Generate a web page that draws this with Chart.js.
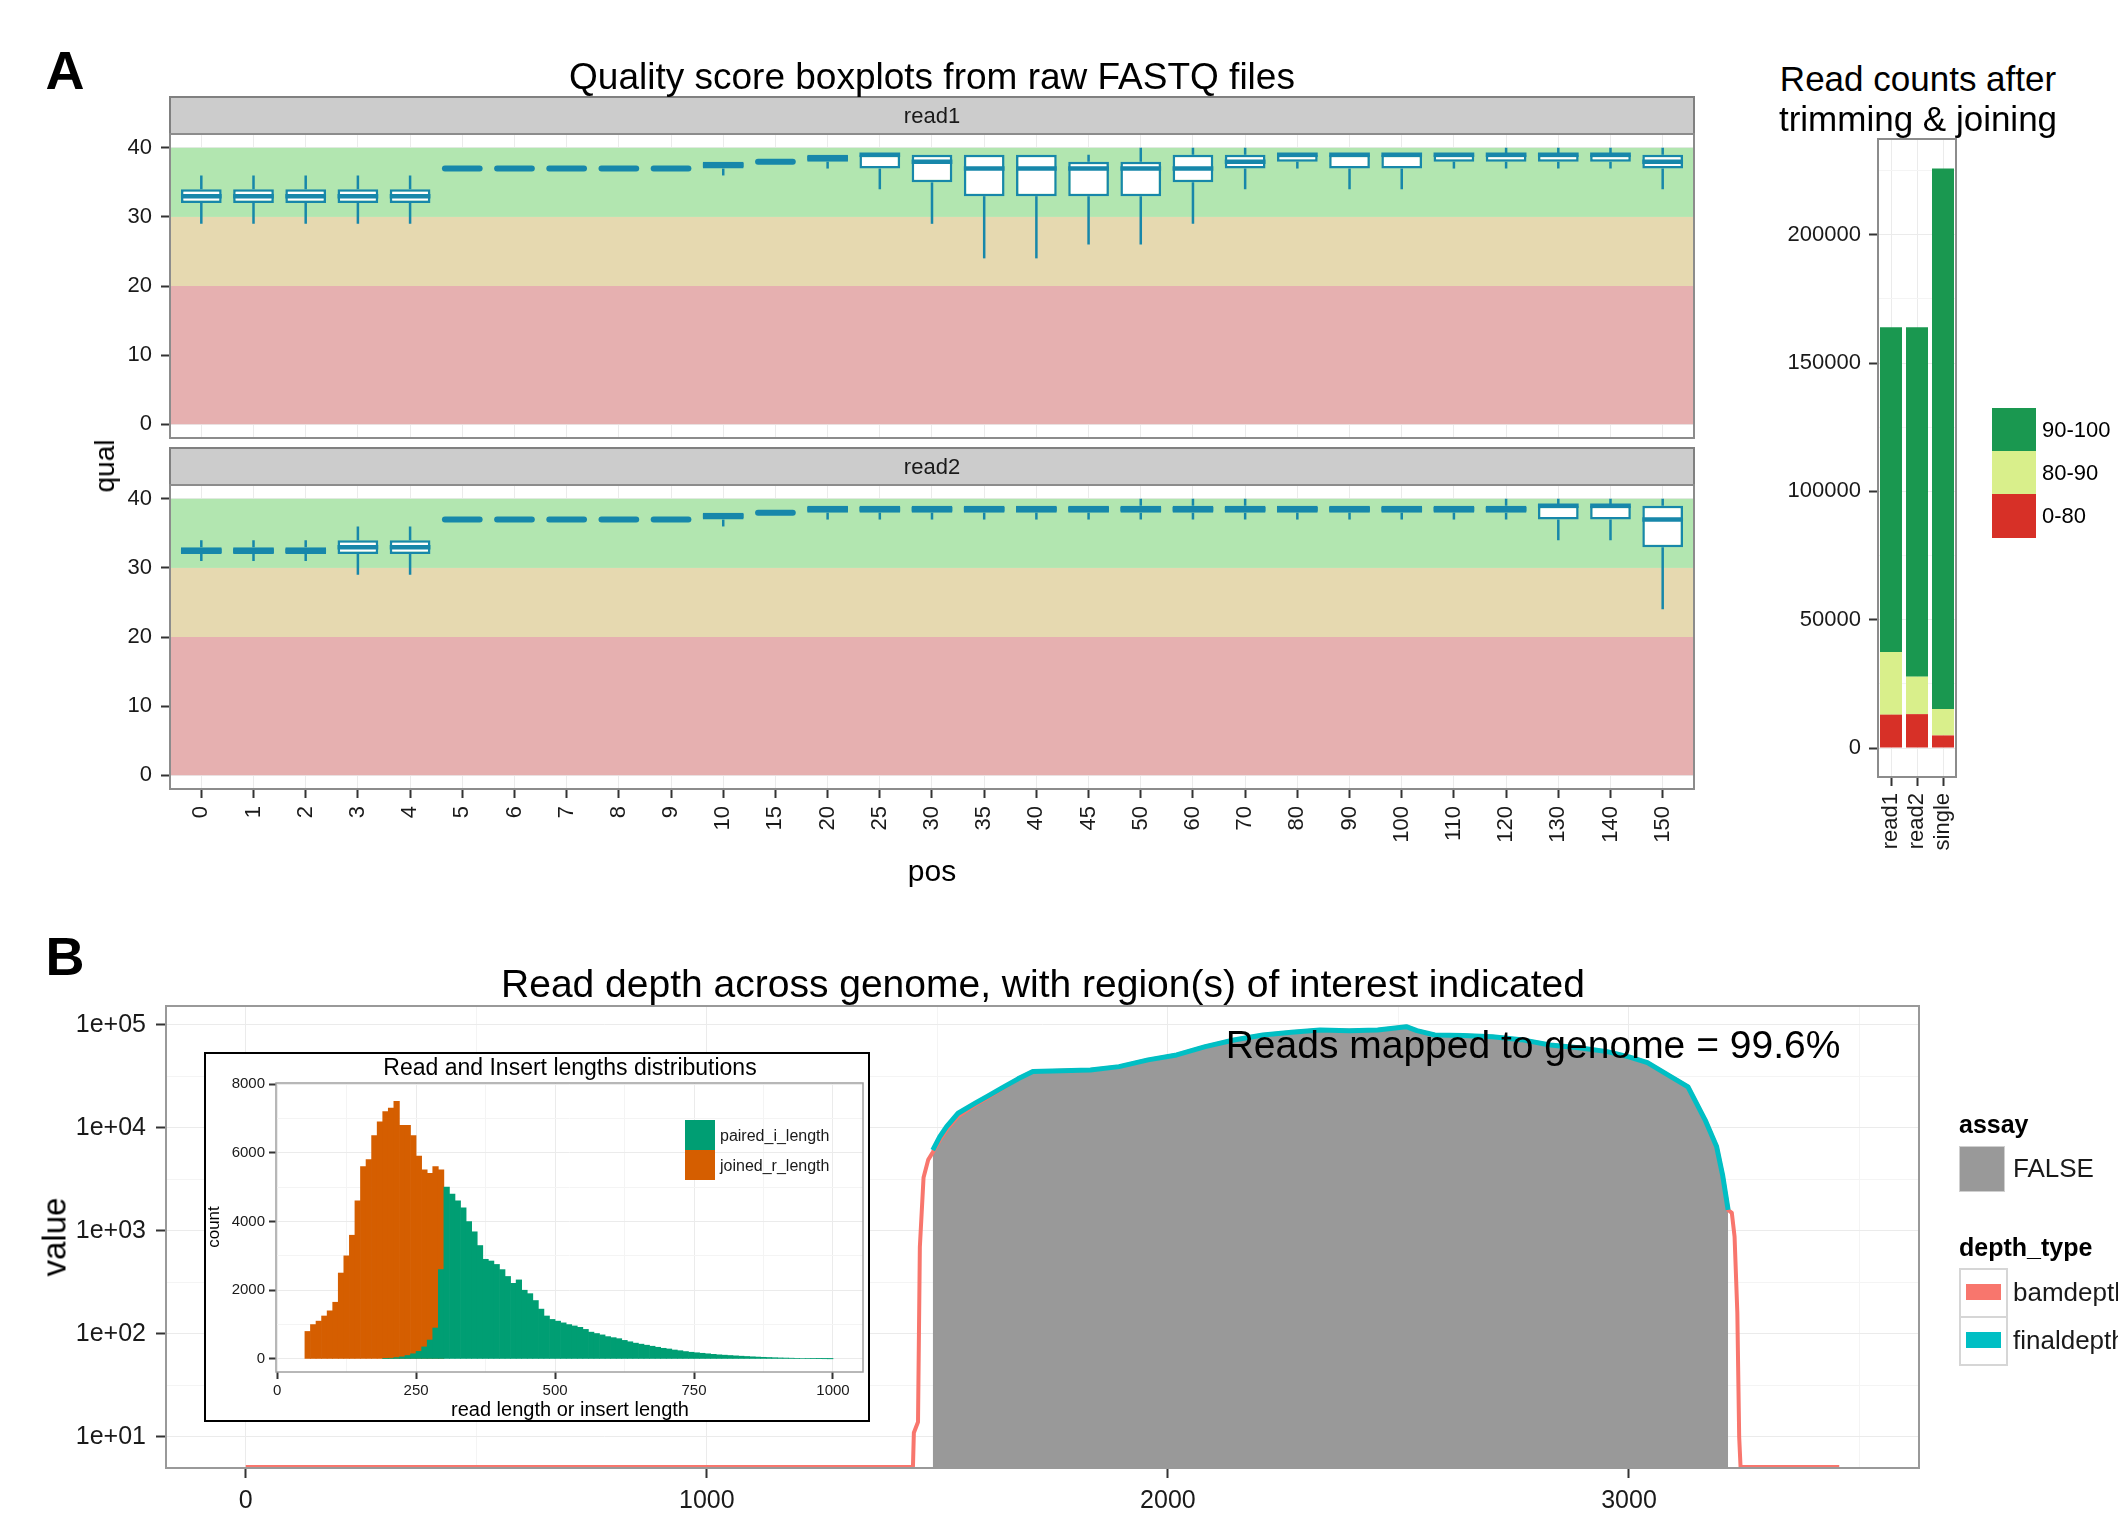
<!DOCTYPE html>
<html>
<head>
<meta charset="utf-8">
<script src="https://cdn.jsdelivr.net/npm/chart.js@4.4.1/dist/chart.umd.min.js"></script>
<style>
  body { margin: 0; background: #fff; font-family: "Liberation Sans", Arial, sans-serif; }
  #page { position: relative; width: 2118px; height: 1524px; overflow: hidden; background: #fff; }
  canvas { position: absolute; }
  .t { position: absolute; white-space: nowrap; color: #000; line-height: 1; }
  .c { transform: translate(-50%, -50%); }
  .l { transform: translateY(-50%); }
  .v { transform: translate(-50%, -50%) rotate(-90deg); }
  .key { position: absolute; }
</style>
</head>
<body>
<div id="page">
  <canvas id="read1" width="1720" height="360" style="left:0;top:90px"></canvas>
  <canvas id="read2" width="1720" height="460" style="left:0;top:440px"></canvas>
  <canvas id="counts" width="398" height="760" style="left:1720px;top:110px"></canvas>
  <canvas id="depth" width="2118" height="534" style="left:0;top:990px"></canvas>
  <canvas id="inset" width="666" height="370" style="left:204px;top:1052px;background:#fff;outline:2px solid #000;outline-offset:-2px"></canvas>

  <div class="t c" style="left:65px;top:70px;font-size:54px;font-weight:bold">A</div>
  <div class="t c" style="left:65px;top:956px;font-size:54px;font-weight:bold">B</div>
  <div class="t c" style="left:932px;top:76px;font-size:37px">Quality score boxplots from raw FASTQ files</div>
  <div class="t v" style="left:105px;top:466px;font-size:28px">qual</div>
  <div class="t c" style="left:932px;top:871px;font-size:30px">pos</div>

  <div class="t c" style="left:1918px;top:78px;font-size:35px">Read counts after</div>
  <div class="t c" style="left:1918px;top:118px;font-size:35px">trimming &amp; joining</div>
  <div class="key" style="left:1992px;top:408px;width:44px;height:43px;background:#1a9850"></div>
  <div class="key" style="left:1992px;top:451px;width:44px;height:43px;background:#d9ef8b"></div>
  <div class="key" style="left:1992px;top:494px;width:44px;height:44px;background:#d73027"></div>
  <div class="t l" style="left:2042px;top:430px;font-size:22px">90-100</div>
  <div class="t l" style="left:2042px;top:473px;font-size:22px">80-90</div>
  <div class="t l" style="left:2042px;top:516px;font-size:22px">0-80</div>

  <div class="t c" style="left:1043px;top:983px;font-size:39px">Read depth across genome, with region(s) of interest indicated</div>
  <div class="t v" style="left:54px;top:1237px;font-size:33px">value</div>
  <div class="t c" style="left:1533px;top:1044px;font-size:39px">Reads mapped to genome = 99.6%</div>

  <div class="t l" style="left:1959px;top:1124px;font-size:25px;font-weight:bold">assay</div>
  <div class="key" style="left:1959px;top:1146px;width:44px;height:44px;background:#999999;border:1px solid #cfcfcf"></div>
  <div class="t l" style="left:2013px;top:1168px;font-size:26px;color:#1a1a1a">FALSE</div>
  <div class="t l" style="left:1959px;top:1247px;font-size:25px;font-weight:bold">depth_type</div>
  <div class="key" style="left:1959px;top:1268px;width:45px;height:46px;border:2px solid #d6d6d6;background:#fff"></div>
  <div class="key" style="left:1959px;top:1316px;width:45px;height:46px;border:2px solid #d6d6d6;background:#fff"></div>
  <div class="key" style="left:1966px;top:1284px;width:35px;height:16px;background:#f8766d"></div>
  <div class="key" style="left:1966px;top:1332px;width:35px;height:16px;background:#00bfc4"></div>
  <div class="t l" style="left:2013px;top:1292px;font-size:26px;color:#1a1a1a">bamdepth</div>
  <div class="t l" style="left:2013px;top:1340px;font-size:26px;color:#1a1a1a">finaldepth</div>

  <div class="t c" style="left:570px;top:1067px;font-size:23px">Read and Insert lengths distributions</div>
  <div class="t v" style="left:213px;top:1227px;font-size:17px">count</div>
  <div class="t c" style="left:570px;top:1409px;font-size:20px">read length or insert length</div>
  <div class="key" style="left:685px;top:1120px;width:30px;height:30px;background:#009e73"></div>
  <div class="key" style="left:685px;top:1150px;width:30px;height:30px;background:#d55e00"></div>
  <div class="t l" style="left:720px;top:1136px;font-size:16px;color:#1a1a1a">paired_i_length</div>
  <div class="t l" style="left:720px;top:1166px;font-size:16px;color:#1a1a1a">joined_r_length</div>
</div>

<script>
// ---- A: quality score boxplots ----
const posLabels = ['0','1','2','3','4','5','6','7','8','9','10','15','20','25','30','35','40','45','50',
                   '60','70','80','90','100','110','120','130','140','150'];
const qualTicks = [0, 10, 20, 30, 40];
const bandLow  = [0, 20, 30];
const bandHigh = [20, 30, 40];

const read1Low  = [29,29,29,29,29, 37,37,37,37,37, 36,38,37,34,29,24,24,26,26,29,34,37,34,34,37,37,37,37,34];
const read1Q1   = [32,32,32,32,32, 37,37,37,37,37, 37,38,38,37,35,33,33,33,33,35,37,38,37,37,38,38,38,38,37];
const read1Med  = [33,33,33,33,33, 37,37,37,37,37, 37.5,38,38.5,39,38,37,37,37,37,37,38,39,39,39,39,39,39,39,38];
const read1Q3   = [34,34,34,34,34, 37,37,37,37,37, 38,38,39,39,39,39,39,38,38,39,39,39,39,39,39,39,39,39,39];
const read1High = [36,36,36,36,36, 37,37,37,37,37, 38,38,39,39,39,39,39,39,40,40,40,39,39,39,39,40,40,40,40];

const read2Low  = [31,31,31,29,29, 37,37,37,37,37, 36,38,37,37,37,37,37,37,37,37,37,37,37,37,37,37,34,34,24];
const read2Q1   = [32,32,32,32,32, 37,37,37,37,37, 37,38,38,38,38,38,38,38,38,38,38,38,38,38,38,38,37,37,33];
const read2Med  = [32.5,32.5,32.5,33,33, 37,37,37,37,37, 37.5,38,38.5,38.5,38.5,38.5,38.5,38.5,38.5,38.5,38.5,38.5,38.5,38.5,38.5,38.5,39,39,37];
const read2Q3   = [33,33,33,34,34, 37,37,37,37,37, 38,38,39,39,39,39,39,39,39,39,39,39,39,39,39,39,39,39,39];
const read2High = [34,34,34,36,36, 37,37,37,37,37, 38,38,39,39,39,39,39,39,40,40,40,39,39,39,39,40,40,40,40];

// ---- read counts after trimming ----
const countGroups   = ['read1', 'read2', 'single'];
const counts0to80   = [13000, 13200, 4900];
const counts80to90  = [24400, 14600, 10300];
const counts90to100 = [126500, 136100, 210600];
const countTicks    = [0, 50000, 100000, 150000, 200000];
const countMinor    = [25000, 75000, 125000, 175000, 225000];

// ---- B: read depth ----
const finalX = [1490,1505,1520,1545,1582,1610,1644,1675,1707,1770,1832,1894,1957,2019,2081,2143,2206,2268,2330,2393,
                2455,2517,2540,2579,2641,2704,2766,2829,2891,2953,3000,3040,3078,3128,3165,3190,3203,3215];
const finalY = [6100,8200,10300,13900,17400,20500,25100,30000,35300,36000,36600,39400,45800,51200,61600,71400,80000,85000,89400,88000,
                89400,96300,88000,80000,79000,77000,72000,63900,60000,55100,49000,43000,34000,25100,12000,6600,3500,1600];
const bamX = [0,1447,1449,1458,1462,1470,1480,1490,1505,1520,1545,1582,1610,1644,1675,1707,1770,1832,1894,1957,2019,2081,2143,2206,
              2268,2330,2393,2455,2517,2540,2579,2641,2704,2766,2829,2891,2953,3000,3040,3078,3128,3165,3190,3203,3215,
              3223,3229,3235,3239,3242,3456];
const bamY = [5.1,5.1,11,14,700,3300,4900,5800,7600,9600,13000,16800,19800,24500,30000,35300,36000,36600,39400,45800,51200,61600,71400,80000,
              85000,89400,88000,89400,96300,88000,80000,79000,77000,72000,63900,60000,55100,49000,43000,34000,25100,12000,6600,3500,1600,
              1500,880,160,10,5.1,5.1];
const depthXTicks = [0, 1000, 2000, 3000];
const depthXMinor = [500, 1500, 2500, 3500];
const depthYTicks = [10, 100, 1000, 10000, 100000];
const depthYLabels = ['1e+01', '1e+02', '1e+03', '1e+04', '1e+05'];
const depthYMinor = [31.6, 316, 3162, 31623];

// ---- inset: read / insert length histogram (bins of 10) ----
const joinedBins   = [50,60,70,80,90,100,110,120,130,140,150,160,170,180,190,200,210,220,230,240,250,260,270,280,290];
const joinedCounts = [800,1000,1100,1250,1400,1650,2500,3000,3600,4600,5600,5800,6500,6900,7200,7300,7500,6800,6800,6500,5900,5500,5400,5600,5500];
const pairedBins = [190,200,210,220,230,240,250,260,270,280,290,300,310,320,330,340,350,360,370,380,390,
                    400,410,420,430,440,450,460,470,480,490,500,510,520,530,540,550,560,570,580,590,
                    600,610,620,630,640,650,660,670,680,690,700,710,720,730,740,750,760,770,780,790,
                    800,810,820,830,840,850,860,870,880,890,900,910,920,930,940,950,960,970,980,990];
const pairedCounts = [10,20,40,60,100,150,220,350,550,900,2600,5000,4800,4600,4400,4000,3700,3300,2900,2850,2750,
                      2600,2400,2200,2300,2000,1900,1700,1450,1250,1150,1100,1050,1000,960,920,860,780,740,700,650,
                      620,590,540,500,460,430,400,370,340,310,290,260,240,215,195,180,165,150,135,120,
                      110,100,90,80,72,63,55,48,42,36,30,26,22,18,15,12,10,8,6,4];
const insetXTicks = [0, 250, 500, 750, 1000];
const insetXMinor = [125, 375, 625, 875];
const insetYTicks = [0, 2000, 4000, 6000, 8000];
const insetYMinor = [1000, 3000, 5000, 7000];

Chart.defaults.font.family = "'Liberation Sans', Arial, sans-serif";
Chart.defaults.color = '#1a1a1a';
Chart.defaults.plugins.legend.display = false;
Chart.defaults.plugins.tooltip.enabled = false;

const boxBlue = '#1787aa';
const bandColors = ['#e6b0b0', '#e6d9b0', '#b2e6b0'];

// ticks with major (labelled) and minor (grid only) values
function tickAxis(major, minor, labels) {
  const all = major.concat(minor).sort((a, b) => a - b);
  return {
    afterBuildTicks: s => { s.ticks = all.map(v => ({ value: v, major: major.includes(v) })); },
    grid: {
      color: c => (c.tick && !c.tick.major) ? '#f4f4f4' : '#ebebeb',
      tickColor: c => (c.tick && !c.tick.major) ? 'rgba(0,0,0,0)' : '#333333',
      tickWidth: 2
    },
    callback: (v) => {
      const i = major.indexOf(v);
      if (i < 0) return '';
      return labels ? labels[i] : String(v);
    }
  };
}

// fixed axis size; drop the label overflow padding so layout.padding decides the panel edges
function fixY(w) { return s => { s.width = w; s.paddingTop = 0; s.paddingBottom = 0; }; }
function fixX(h) { return s => { s.height = h; s.paddingLeft = 0; s.paddingRight = 0; }; }

const panelFrame = {
  id: 'panelFrame',
  afterDraw(chart, args, opts) {
    const { ctx, chartArea: a } = chart;
    ctx.save();
    ctx.strokeStyle = opts.color || '#8c8c8c';
    ctx.lineWidth = opts.width || 2;
    ctx.strokeRect(a.left, a.top, a.right - a.left, a.bottom - a.top);
    ctx.restore();
  }
};

const qualBands = {
  id: 'qualBands',
  beforeDatasetsDraw(chart) {
    const { ctx, chartArea: a, scales: { y } } = chart;
    ctx.save();
    bandLow.forEach((lo, i) => {
      const top = y.getPixelForValue(bandHigh[i]);
      const bot = y.getPixelForValue(lo);
      ctx.fillStyle = bandColors[i];
      ctx.fillRect(a.left, top, a.right - a.left, bot - top);
    });
    ctx.restore();
  }
};

const facetStrip = {
  id: 'facetStrip',
  afterDraw(chart, args, opts) {
    const { ctx, chartArea: a } = chart;
    const h = opts.height;
    ctx.save();
    ctx.fillStyle = '#cccccc';
    ctx.fillRect(a.left, a.top - h, a.right - a.left, h);
    ctx.strokeStyle = '#808080';
    ctx.lineWidth = 2;
    ctx.strokeRect(a.left, a.top - h, a.right - a.left, h);
    ctx.fillStyle = '#1a1a1a';
    ctx.font = "22px 'Liberation Sans', Arial, sans-serif";
    ctx.textAlign = 'center';
    ctx.textBaseline = 'middle';
    ctx.fillText(opts.text, (a.left + a.right) / 2, a.top - h / 2 + 1);
    ctx.restore();
  }
};

// whiskers and medians, drawn over the floating-bar boxes
function whiskerPlugin(lows, meds, highs) {
  return {
    id: 'whiskers',
    afterDatasetsDraw(chart) {
      const { ctx, scales: { y } } = chart;
      const bars = chart.getDatasetMeta(0).data;
      const data = chart.data.datasets[0].data;
      ctx.save();
      ctx.strokeStyle = boxBlue;
      bars.forEach((bar, i) => {
        const { x, width } = bar.getProps(['x', 'width']);
        const [q1, q3] = data[i].y;
        ctx.lineWidth = 2.5;
        ctx.lineCap = 'butt';
        ctx.beginPath();
        ctx.moveTo(x, y.getPixelForValue(q3));
        ctx.lineTo(x, y.getPixelForValue(highs[i]));
        ctx.moveTo(x, y.getPixelForValue(q1));
        ctx.lineTo(x, y.getPixelForValue(lows[i]));
        ctx.stroke();
        const flat = q1 === q3;
        ctx.lineWidth = flat ? 6 : 4.5;
        ctx.lineCap = flat ? 'round' : 'butt';
        const ym = y.getPixelForValue(meds[i]);
        const half = width / 2 - (flat ? 3 : 0);
        ctx.beginPath();
        ctx.moveTo(x - half, ym);
        ctx.lineTo(x + half, ym);
        ctx.stroke();
      });
      ctx.restore();
    }
  };
}

function makeQualChart(id, facet, low, q1, med, q3, high, showX) {
  const yt = tickAxis(qualTicks, [], null);
  return new Chart(document.getElementById(id), {
    type: 'bar',
    data: {
      datasets: [{
        data: q1.map((v, i) => ({ x: i, y: [v, q3[i]] })),
        backgroundColor: '#ffffff',
        borderColor: boxBlue,
        borderWidth: 2.5,
        borderSkipped: false,
        barPercentage: 0.78,
        categoryPercentage: 1
      }]
    },
    options: {
      responsive: false,
      devicePixelRatio: 1,
      animation: false,
      layout: { padding: { top: showX ? 45 : 44, right: 26, left: 0, bottom: showX ? 0 : 12 } },
      plugins: { facetStrip: { text: facet, height: 37 }, panelFrame: {} },
      scales: {
        x: {
          type: 'linear', min: -0.6, max: 28.6, offset: false,
          afterBuildTicks: s => { s.ticks = posLabels.map((l, i) => ({ value: i })); },
          afterFit: fixX(showX ? 111 : 0),
          grid: { color: '#ebebeb', drawTicks: showX, tickLength: 9, tickColor: '#333333', tickWidth: 2, offset: false },
          border: { display: false },
          ticks: { display: showX, autoSkip: false, maxRotation: 90, minRotation: 90, padding: 8,
                   font: { size: 22 }, color: '#1a1a1a', callback: v => posLabels[v] }
        },
        y: {
          min: -2, max: 42,
          afterBuildTicks: yt.afterBuildTicks,
          afterFit: fixY(170),
          grid: { color: '#ebebeb', tickLength: 9, tickColor: '#333333', tickWidth: 2 },
          border: { display: false },
          ticks: { padding: 9, font: { size: 22 }, color: '#1a1a1a', callback: yt.callback }
        }
      }
    },
    plugins: [qualBands, whiskerPlugin(low, med, high), facetStrip, panelFrame]
  });
}

makeQualChart('read1', 'read1', read1Low, read1Q1, read1Med, read1Q3, read1High, false);
makeQualChart('read2', 'read2', read2Low, read2Q1, read2Med, read2Q3, read2High, true);

// ---- counts ----
const ct = tickAxis(countTicks, countMinor, null);
new Chart(document.getElementById('counts'), {
  type: 'bar',
  data: {
    labels: countGroups,
    datasets: [
      { label: '0-80', data: counts0to80, backgroundColor: '#d73027' },
      { label: '80-90', data: counts80to90, backgroundColor: '#d9ef8b' },
      { label: '90-100', data: counts90to100, backgroundColor: '#1a9850' }
    ]
  },
  options: {
    responsive: false,
    devicePixelRatio: 1,
    animation: false,
    layout: { padding: { top: 29, right: 162, left: 0, bottom: 0 } },
    datasets: { bar: { categoryPercentage: 0.92, barPercentage: 0.92 } },
    plugins: { panelFrame: {} },
    scales: {
      x: {
        stacked: true,
        afterFit: fixX(93),
        grid: { offset: false, color: '#ebebeb', tickLength: 9, tickColor: '#333333', tickWidth: 2 },
        border: { display: false },
        ticks: { autoSkip: false, maxRotation: 90, minRotation: 90, padding: 7, font: { size: 22 }, color: '#1a1a1a' }
      },
      y: {
        stacked: true, min: -11300, max: 237300,
        afterBuildTicks: ct.afterBuildTicks,
        afterFit: fixY(158),
        grid: Object.assign({ tickLength: 9 }, ct.grid),
        border: { display: false },
        ticks: { autoSkip: false, padding: 8, font: { size: 22 }, color: '#1a1a1a', callback: ct.callback }
      }
    }
  },
  plugins: [panelFrame]
});

// ---- depth ----
const dx = tickAxis(depthXTicks, depthXMinor, null);
const dy = tickAxis(depthYTicks, depthYMinor, depthYLabels);
new Chart(document.getElementById('depth'), {
  type: 'line',
  data: {
    datasets: [
      { label: 'finaldepth', data: finalX.map((x, i) => ({ x, y: finalY[i] })),
        borderColor: '#00bfc4', borderWidth: 5, fill: false, order: 1 },
      { label: 'bamdepth', data: bamX.map((x, i) => ({ x, y: bamY[i] })),
        borderColor: '#f8766d', borderWidth: 4, fill: false, order: 2 },
      { label: 'FALSE', data: finalX.map((x, i) => ({ x, y: finalY[i] })),
        borderWidth: 0, borderColor: 'rgba(0,0,0,0)', backgroundColor: '#999999', fill: 'start', order: 3 }
    ]
  },
  options: {
    responsive: false,
    devicePixelRatio: 1,
    animation: false,
    elements: { point: { radius: 0 }, line: { tension: 0, borderJoinStyle: 'round' } },
    layout: { padding: { top: 16, right: 199, left: 0, bottom: 0 } },
    plugins: { panelFrame: { color: '#999999' } },
    scales: {
      x: {
        type: 'linear', min: -173, max: 3629,
        afterBuildTicks: dx.afterBuildTicks,
        afterFit: fixX(56),
        grid: Object.assign({ tickLength: 10 }, dx.grid),
        border: { display: false },
        ticks: { autoSkip: false, maxRotation: 0, padding: 8, font: { size: 25 }, color: '#1a1a1a', callback: dx.callback }
      },
      y: {
        type: 'logarithmic', min: 5, max: 152800,
        afterBuildTicks: dy.afterBuildTicks,
        afterFit: fixY(166),
        grid: Object.assign({ tickLength: 10 }, dy.grid),
        border: { display: false },
        ticks: { autoSkip: false, padding: 10, font: { size: 25 }, color: '#1a1a1a', callback: dy.callback }
      }
    }
  },
  plugins: [panelFrame]
});

// ---- inset histogram ----
const ix = tickAxis(insetXTicks, insetXMinor, null);
const iy = tickAxis(insetYTicks, insetYMinor, null);
new Chart(document.getElementById('inset'), {
  type: 'bar',
  data: {
    datasets: [
      { label: 'paired_i_length', data: pairedBins.map((b, i) => ({ x: b + 5, y: pairedCounts[i] })),
        backgroundColor: '#009e73', order: 1 },
      { label: 'joined_r_length', data: joinedBins.map((b, i) => ({ x: b + 5, y: joinedCounts[i] })),
        backgroundColor: '#d55e00', order: 2 }
    ]
  },
  options: {
    responsive: false,
    devicePixelRatio: 1,
    animation: false,
    datasets: { bar: { grouped: false, barPercentage: 1, categoryPercentage: 1, borderWidth: 0 } },
    layout: { padding: { top: 31, right: 7, left: 0, bottom: 0 } },
    plugins: { panelFrame: { color: '#a0a0a0', width: 1.5 } },
    scales: {
      x: {
        type: 'linear', min: -2, max: 1054, offset: false,
        afterBuildTicks: ix.afterBuildTicks,
        afterFit: fixX(50),
        grid: Object.assign({ tickLength: 7, offset: false }, ix.grid),
        border: { display: false },
        ticks: { autoSkip: false, maxRotation: 0, padding: 3, font: { size: 15 }, color: '#1a1a1a', callback: ix.callback }
      },
      y: {
        min: -380, max: 8030,
        afterBuildTicks: iy.afterBuildTicks,
        afterFit: fixY(72),
        grid: Object.assign({ tickLength: 7 }, iy.grid),
        border: { display: false },
        ticks: { autoSkip: false, padding: 4, font: { size: 15 }, color: '#1a1a1a', callback: iy.callback }
      }
    }
  },
  plugins: [panelFrame]
});
</script>
</body>
</html>
